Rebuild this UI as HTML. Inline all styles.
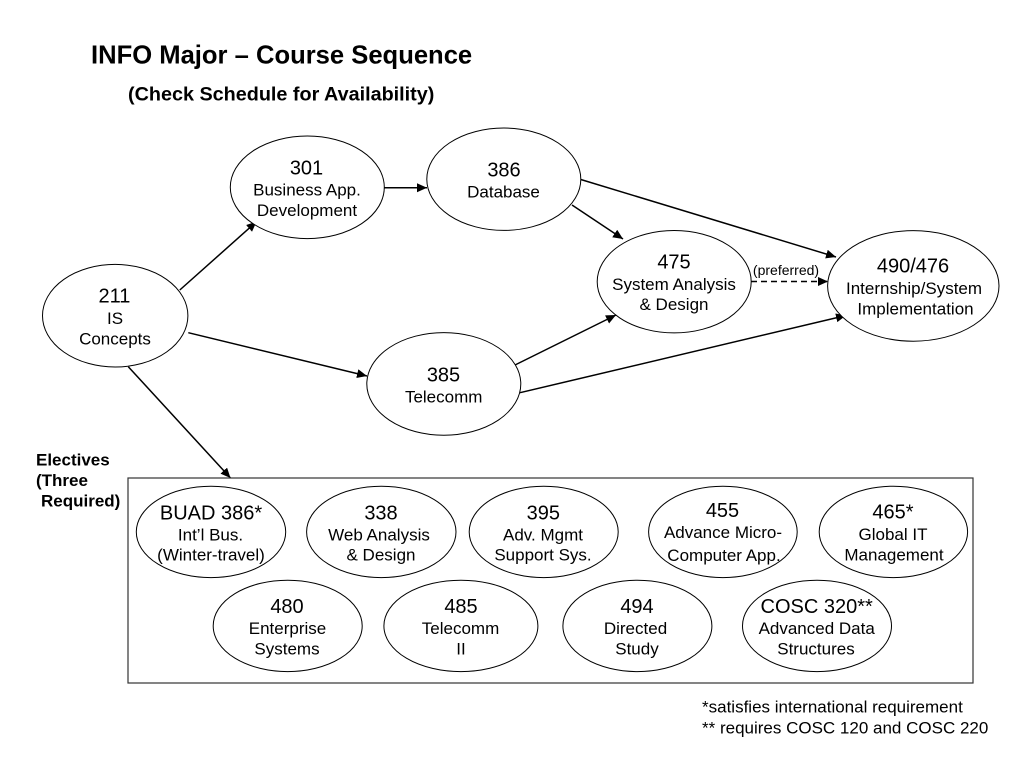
<!DOCTYPE html>
<html>
<head>
<meta charset="utf-8">
<style>
html,body{margin:0;padding:0;background:#fff;}
svg{display:block;}
text{font-family:"Liberation Sans",sans-serif;fill:#000;}
.m{text-anchor:middle;}
.a{font-size:20px;}
.b{font-size:17px;}
.e{fill:#fff;stroke:#000;stroke-width:1;}
.l{stroke:#000;stroke-width:1.5;fill:none;marker-end:url(#ah);}
</style>
</head>
<body>
<svg width="1024" height="768" viewBox="0 0 1024 768" xmlns="http://www.w3.org/2000/svg">
<defs>
<marker id="ah" markerUnits="userSpaceOnUse" markerWidth="11" markerHeight="10" refX="10" refY="4.5" orient="auto">
<path d="M0,0 L10,4.5 L0,9 Z" fill="#000"/>
</marker>
</defs>
<rect width="1024" height="768" fill="#fff"/>

<text x="91" y="63.6" font-size="25.6" font-weight="bold">INFO Major – Course Sequence</text>
<text x="128" y="100.7" font-size="19.8" font-weight="bold">(Check Schedule for Availability)</text>

<!-- connectors -->
<line class="l" x1="179.8" y1="290" x2="256.5" y2="221.7"/>
<line class="l" x1="188.3" y1="332.7" x2="367" y2="376"/>
<line class="l" x1="128.3" y1="366.7" x2="230.5" y2="478"/>
<line class="l" x1="384.5" y1="187.7" x2="427" y2="187.7"/>
<line class="l" x1="580.8" y1="179.5" x2="836" y2="257"/>
<line class="l" x1="572" y1="205" x2="623" y2="239"/>
<line class="l" x1="515" y1="365" x2="616" y2="315"/>
<line class="l" x1="520" y1="392.7" x2="846" y2="315.5"/>
<line class="l" x1="751" y1="281.5" x2="828" y2="281.5" stroke-dasharray="6 4"/>
<text class="m" x="786" y="275" font-size="14">(preferred)</text>

<!-- electives box -->
<rect x="128" y="478" width="845" height="205" fill="#fff" stroke="#333" stroke-width="1.2"/>
<text x="36" y="465.7" font-size="17" font-weight="bold">Electives</text>
<text x="36" y="486" font-size="17" font-weight="bold">(Three</text>
<text x="41" y="506.5" font-size="17" font-weight="bold">Required)</text>

<!-- main nodes -->
<ellipse class="e" cx="115.2" cy="315.7" rx="72.7" ry="51.3"/>
<text class="m a" x="114.5" y="302.5">211</text>
<text class="m b" x="115" y="324">IS</text>
<text class="m b" x="115" y="344.5">Concepts</text>

<ellipse class="e" cx="307.3" cy="187.3" rx="77" ry="51.3"/>
<text class="m a" x="306.5" y="174.3">301</text>
<text class="m b" x="307" y="195.7">Business App.</text>
<text class="m b" x="307" y="216.2">Development</text>

<ellipse class="e" cx="503.8" cy="179.2" rx="77" ry="51.2"/>
<text class="m a" x="504" y="176.5">386</text>
<text class="m b" x="503.5" y="197.5">Database</text>

<ellipse class="e" cx="674.2" cy="281.7" rx="77" ry="51.2"/>
<text class="m a" x="674" y="268.3">475</text>
<text class="m b" x="674" y="290">System Analysis</text>
<text class="m b" x="674" y="310">&amp; Design</text>

<ellipse class="e" cx="913.3" cy="285.9" rx="85.7" ry="55.3"/>
<text class="m a" x="913" y="272.3">490/476</text>
<text class="m b" x="914" y="294">Internship/System</text>
<text class="m b" x="915.5" y="314.5">Implementation</text>

<ellipse class="e" cx="443.8" cy="383.9" rx="77" ry="51.3"/>
<text class="m a" x="443.5" y="381.3">385</text>
<text class="m b" x="443.7" y="402.5">Telecomm</text>

<!-- electives row 1 -->
<ellipse class="e" cx="211" cy="531.9" rx="74.7" ry="45.7"/>
<text class="m a" x="211" y="519.3">BUAD 386*</text>
<text class="m b" x="210.5" y="540.3">Int’l Bus.</text>
<text class="m b" x="211" y="560.7">(Winter-travel)</text>

<ellipse class="e" cx="381.3" cy="531.9" rx="74.7" ry="45.7"/>
<text class="m a" x="381" y="519.3">338</text>
<text class="m b" x="379" y="540.3">Web Analysis</text>
<text class="m b" x="381" y="560.7">&amp; Design</text>

<ellipse class="e" cx="543.7" cy="531.9" rx="74.5" ry="45.7"/>
<text class="m a" x="543.3" y="519.3">395</text>
<text class="m b" x="543" y="540.3">Adv. Mgmt</text>
<text class="m b" x="543" y="560.7">Support Sys.</text>

<ellipse class="e" cx="722.9" cy="531.9" rx="74.3" ry="45.7"/>
<text class="m a" x="722.5" y="517">455</text>
<text class="m b" x="723" y="538">Advance Micro-</text>
<text class="m b" x="724" y="561">Computer App.</text>

<ellipse class="e" cx="893.4" cy="531.9" rx="74.2" ry="45.7"/>
<text class="m a" x="893" y="518.7">465*</text>
<text class="m b" x="893" y="540">Global IT</text>
<text class="m b" x="894" y="560.7">Management</text>

<!-- electives row 2 -->
<ellipse class="e" cx="287.7" cy="625.9" rx="74.5" ry="45.7"/>
<text class="m a" x="287" y="613">480</text>
<text class="m b" x="287.5" y="634">Enterprise</text>
<text class="m b" x="287" y="654.3">Systems</text>

<ellipse class="e" cx="460.9" cy="625.9" rx="77" ry="45.7"/>
<text class="m a" x="461" y="613">485</text>
<text class="m b" x="460.5" y="634">Telecomm</text>
<text class="m b" x="461" y="654.3">II</text>

<ellipse class="e" cx="637.4" cy="625.9" rx="74.5" ry="45.7"/>
<text class="m a" x="637" y="613">494</text>
<text class="m b" x="635.5" y="634">Directed</text>
<text class="m b" x="637" y="654.3">Study</text>

<ellipse class="e" cx="817" cy="625.9" rx="74.5" ry="45.7"/>
<text class="m a" x="816.7" y="613">COSC 320**</text>
<text class="m b" x="816.7" y="634">Advanced Data</text>
<text class="m b" x="816" y="654.3">Structures</text>

<!-- footnotes -->
<text x="702" y="712.5" font-size="17">*satisfies international requirement</text>
<text x="702" y="733.5" font-size="17">** requires COSC 120 and COSC 220</text>
</svg>
</body>
</html>
